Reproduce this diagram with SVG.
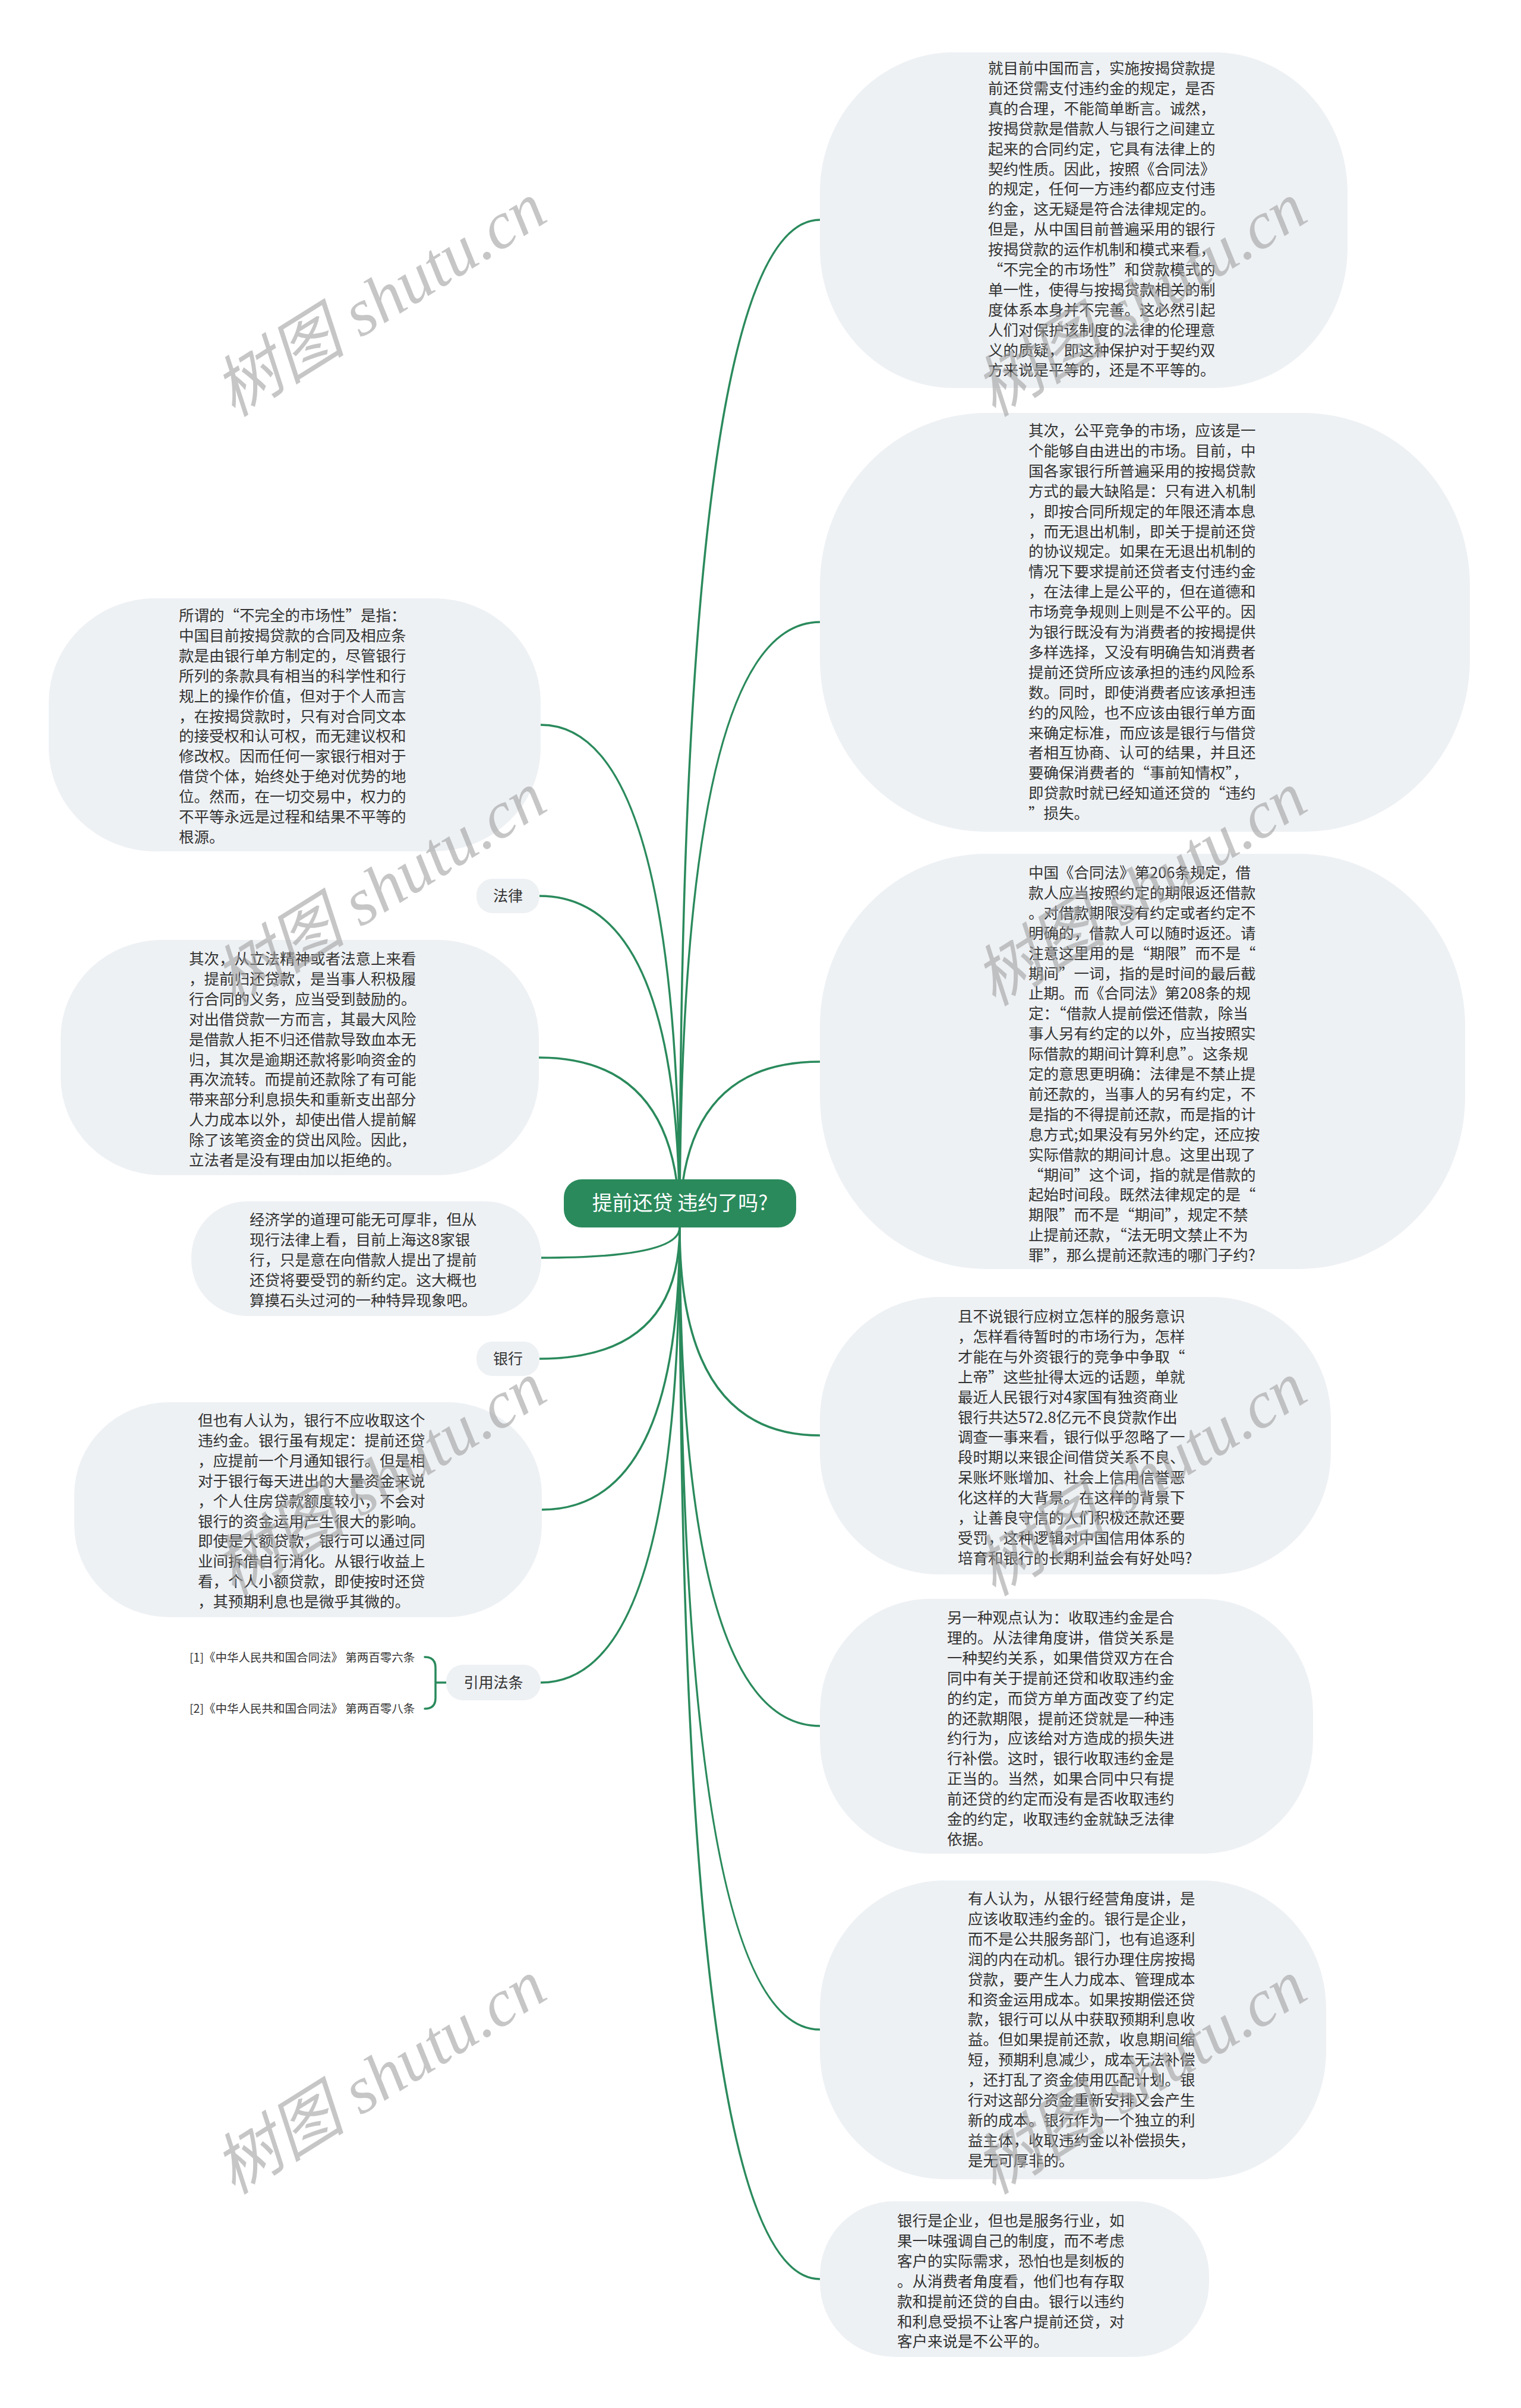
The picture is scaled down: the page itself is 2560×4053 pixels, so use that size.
<svg xmlns="http://www.w3.org/2000/svg" width="2560" height="4053" viewBox="0 0 2560 4053">
<style>
.bub{fill:#eef1f4;}
.t{font-family:"Noto Sans CJK SC","Noto Sans",sans-serif;font-size:25.5px;fill:#333333;}
.lbl{font-family:"Noto Sans CJK SC","Noto Sans",sans-serif;font-size:25px;fill:#333333;text-anchor:middle;}
.ref{font-family:"Noto Sans CJK SC","Noto Sans",sans-serif;font-size:19.5px;fill:#333333;}
.con path{fill:none;stroke:#2a8a5c;stroke-width:3.5;stroke-linecap:round;}
.wm{font-family:"Liberation Serif","Noto Sans CJK SC",serif;font-style:italic;font-size:112px;fill:#a0a0a0;fill-opacity:0.6;text-anchor:middle;}
</style>
<rect x="0" y="0" width="2560" height="4053" fill="#ffffff"/>
<g id="connectors" class="con">
<path d="M1144 2066 Q1144 370 1380 370"/>
<path d="M1144 2066 Q1144 1047 1380 1047"/>
<path d="M1144 2066 Q1144 1787 1380 1787"/>
<path d="M1144 2066 Q1144 2416 1380 2416"/>
<path d="M1144 2066 Q1144 2905 1380 2905"/>
<path d="M1144 2066 Q1144 3416 1380 3416"/>
<path d="M1144 2066 Q1144 3836 1380 3836"/>
<path d="M1144 2066 Q1144 1220 910 1220"/>
<path d="M1144 2066 Q1144 1508 908 1508"/>
<path d="M1144 2066 Q1144 1780 907 1780"/>
<path d="M1144 2066 Q1144 2117 911 2117"/>
<path d="M1144 2066 Q1144 2287 908 2287"/>
<path d="M1144 2066 Q1144 2541 912 2541"/>
<path d="M1144 2066 Q1144 2832 910 2832"/>
<path d="M751 2832 L734 2832"/>
<path d="M715 2789 Q733 2789 733 2807 L733 2858 Q733 2876 715 2876"/>
</g>
<g id="center">
<rect x="949" y="1985" width="391" height="81" rx="30" fill="#2a8a5c"/>
<text x="1144.5" y="2037" font-family="Noto Sans CJK SC, sans-serif" font-size="34" fill="#ffffff" text-anchor="middle">提前还贷 违约了吗?</text>
</g>
<g id="n1">
<rect class="bub" x="1380" y="88" width="888" height="565" rx="225" ry="235"/>
<text class="t" x="1663" y="124"><tspan x="1663">就目前中国而言，实施按揭贷款提</tspan><tspan x="1663" dy="33.9">前还贷需支付违约金的规定，是否</tspan><tspan x="1663" dy="33.9">真的合理，不能简单断言。诚然，</tspan><tspan x="1663" dy="33.9">按揭贷款是借款人与银行之间建立</tspan><tspan x="1663" dy="33.9">起来的合同约定，它具有法律上的</tspan><tspan x="1663" dy="33.9">契约性质。因此，按照《合同法》</tspan><tspan x="1663" dy="33.9">的规定，任何一方违约都应支付违</tspan><tspan x="1663" dy="33.9">约金，这无疑是符合法律规定的。</tspan><tspan x="1663" dy="33.9">但是，从中国目前普遍采用的银行</tspan><tspan x="1663" dy="33.9">按揭贷款的运作机制和模式来看，</tspan><tspan x="1663" dy="33.9">“不完全的市场性”和贷款模式的</tspan><tspan x="1663" dy="33.9">单一性，使得与按揭贷款相关的制</tspan><tspan x="1663" dy="33.9">度体系本身并不完善。这必然引起</tspan><tspan x="1663" dy="33.9">人们对保护该制度的法律的伦理意</tspan><tspan x="1663" dy="33.9">义的质疑，即这种保护对于契约双</tspan><tspan x="1663" dy="33.9">方来说是平等的，还是不平等的。</tspan></text>
</g>
<g id="n2">
<rect class="bub" x="1380" y="695" width="1094" height="705" rx="280" ry="290"/>
<text class="t" x="1731" y="734"><tspan x="1731">其次，公平竞争的市场，应该是一</tspan><tspan x="1731" dy="33.9">个能够自由进出的市场。目前，中</tspan><tspan x="1731" dy="33.9">国各家银行所普遍采用的按揭贷款</tspan><tspan x="1731" dy="33.9">方式的最大缺陷是：只有进入机制</tspan><tspan x="1731" dy="33.9">，即按合同所规定的年限还清本息</tspan><tspan x="1731" dy="33.9">，而无退出机制，即关于提前还贷</tspan><tspan x="1731" dy="33.9">的协议规定。如果在无退出机制的</tspan><tspan x="1731" dy="33.9">情况下要求提前还贷者支付违约金</tspan><tspan x="1731" dy="33.9">，在法律上是公平的，但在道德和</tspan><tspan x="1731" dy="33.9">市场竞争规则上则是不公平的。因</tspan><tspan x="1731" dy="33.9">为银行既没有为消费者的按揭提供</tspan><tspan x="1731" dy="33.9">多样选择，又没有明确告知消费者</tspan><tspan x="1731" dy="33.9">提前还贷所应该承担的违约风险系</tspan><tspan x="1731" dy="33.9">数。同时，即使消费者应该承担违</tspan><tspan x="1731" dy="33.9">约的风险，也不应该由银行单方面</tspan><tspan x="1731" dy="33.9">来确定标准，而应该是银行与借贷</tspan><tspan x="1731" dy="33.9">者相互协商、认可的结果，并且还</tspan><tspan x="1731" dy="33.9">要确保消费者的“事前知情权”，</tspan><tspan x="1731" dy="33.9">即贷款时就已经知道还贷的“违约</tspan><tspan x="1731" dy="33.9">”损失。</tspan></text>
</g>
<g id="n3">
<rect class="bub" x="1380" y="1437" width="1086" height="699" rx="280" ry="290"/>
<text class="t" x="1731" y="1478"><tspan x="1731">中国《合同法》第206条规定，借</tspan><tspan x="1731" dy="33.9">款人应当按照约定的期限返还借款</tspan><tspan x="1731" dy="33.9">。对借款期限没有约定或者约定不</tspan><tspan x="1731" dy="33.9">明确的，借款人可以随时返还。请</tspan><tspan x="1731" dy="33.9">注意这里用的是“期限”而不是“</tspan><tspan x="1731" dy="33.9">期间”一词，指的是时间的最后截</tspan><tspan x="1731" dy="33.9">止期。而《合同法》第208条的规</tspan><tspan x="1731" dy="33.9">定：“借款人提前偿还借款，除当</tspan><tspan x="1731" dy="33.9">事人另有约定的以外，应当按照实</tspan><tspan x="1731" dy="33.9">际借款的期间计算利息”。这条规</tspan><tspan x="1731" dy="33.9">定的意思更明确：法律是不禁止提</tspan><tspan x="1731" dy="33.9">前还款的，当事人的另有约定，不</tspan><tspan x="1731" dy="33.9">是指的不得提前还款，而是指的计</tspan><tspan x="1731" dy="33.9">息方式;如果没有另外约定，还应按</tspan><tspan x="1731" dy="33.9">实际借款的期间计息。这里出现了</tspan><tspan x="1731" dy="33.9">“期间”这个词，指的就是借款的</tspan><tspan x="1731" dy="33.9">起始时间段。既然法律规定的是“</tspan><tspan x="1731" dy="33.9">期限”而不是“期间”，规定不禁</tspan><tspan x="1731" dy="33.9">止提前还款，“法无明文禁止不为</tspan><tspan x="1731" dy="33.9">罪”，那么提前还款违的哪门子约?</tspan></text>
</g>
<g id="n4">
<rect class="bub" x="1380" y="2183" width="860" height="467" rx="200" ry="205"/>
<text class="t" x="1612" y="2225"><tspan x="1612">且不说银行应树立怎样的服务意识</tspan><tspan x="1612" dy="33.9">，怎样看待暂时的市场行为，怎样</tspan><tspan x="1612" dy="33.9">才能在与外资银行的竞争中争取“</tspan><tspan x="1612" dy="33.9">上帝”这些扯得太远的话题，单就</tspan><tspan x="1612" dy="33.9">最近人民银行对4家国有独资商业</tspan><tspan x="1612" dy="33.9">银行共达572.8亿元不良贷款作出</tspan><tspan x="1612" dy="33.9">调查一事来看，银行似乎忽略了一</tspan><tspan x="1612" dy="33.9">段时期以来银企间借贷关系不良、</tspan><tspan x="1612" dy="33.9">呆账坏账增加、社会上信用信誉恶</tspan><tspan x="1612" dy="33.9">化这样的大背景。在这样的背景下</tspan><tspan x="1612" dy="33.9">，让善良守信的人们积极还款还要</tspan><tspan x="1612" dy="33.9">受罚，这种逻辑对中国信用体系的</tspan><tspan x="1612" dy="33.9">培育和银行的长期利益会有好处吗?</tspan></text>
</g>
<g id="n5">
<rect class="bub" x="1380" y="2691" width="830" height="429" rx="185" ry="190"/>
<text class="t" x="1594" y="2732"><tspan x="1594">另一种观点认为：收取违约金是合</tspan><tspan x="1594" dy="33.9">理的。从法律角度讲，借贷关系是</tspan><tspan x="1594" dy="33.9">一种契约关系，如果借贷双方在合</tspan><tspan x="1594" dy="33.9">同中有关于提前还贷和收取违约金</tspan><tspan x="1594" dy="33.9">的约定，而贷方单方面改变了约定</tspan><tspan x="1594" dy="33.9">的还款期限，提前还贷就是一种违</tspan><tspan x="1594" dy="33.9">约行为，应该给对方造成的损失进</tspan><tspan x="1594" dy="33.9">行补偿。这时，银行收取违约金是</tspan><tspan x="1594" dy="33.9">正当的。当然，如果合同中只有提</tspan><tspan x="1594" dy="33.9">前还贷的约定而没有是否收取违约</tspan><tspan x="1594" dy="33.9">金的约定，收取违约金就缺乏法律</tspan><tspan x="1594" dy="33.9">依据。</tspan></text>
</g>
<g id="n6">
<rect class="bub" x="1380" y="3165" width="852" height="503" rx="210" ry="215"/>
<text class="t" x="1629" y="3205"><tspan x="1629">有人认为，从银行经营角度讲，是</tspan><tspan x="1629" dy="33.9">应该收取违约金的。银行是企业，</tspan><tspan x="1629" dy="33.9">而不是公共服务部门，也有追逐利</tspan><tspan x="1629" dy="33.9">润的内在动机。银行办理住房按揭</tspan><tspan x="1629" dy="33.9">贷款，要产生人力成本、管理成本</tspan><tspan x="1629" dy="33.9">和资金运用成本。如果按期偿还贷</tspan><tspan x="1629" dy="33.9">款，银行可以从中获取预期利息收</tspan><tspan x="1629" dy="33.9">益。但如果提前还款，收息期间缩</tspan><tspan x="1629" dy="33.9">短，预期利息减少，成本无法补偿</tspan><tspan x="1629" dy="33.9">，还打乱了资金使用匹配计划。银</tspan><tspan x="1629" dy="33.9">行对这部分资金重新安排又会产生</tspan><tspan x="1629" dy="33.9">新的成本。银行作为一个独立的利</tspan><tspan x="1629" dy="33.9">益主体，收取违约金以补偿损失，</tspan><tspan x="1629" dy="33.9">是无可厚非的。</tspan></text>
</g>
<g id="n7">
<rect class="bub" x="1380" y="3705" width="655" height="262" rx="125" ry="125"/>
<text class="t" x="1510" y="3747"><tspan x="1510">银行是企业，但也是服务行业，如</tspan><tspan x="1510" dy="33.9">果一味强调自己的制度，而不考虑</tspan><tspan x="1510" dy="33.9">客户的实际需求，恐怕也是刻板的</tspan><tspan x="1510" dy="33.9">。从消费者角度看，他们也有存取</tspan><tspan x="1510" dy="33.9">款和提前还贷的自由。银行以违约</tspan><tspan x="1510" dy="33.9">和利息受损不让客户提前还贷，对</tspan><tspan x="1510" dy="33.9">客户来说是不公平的。</tspan></text>
</g>
<g id="l1">
<rect class="bub" x="82" y="1007" width="828" height="426" rx="180" ry="175"/>
<text class="t" x="301" y="1045"><tspan x="301">所谓的“不完全的市场性”是指：</tspan><tspan x="301" dy="33.9">中国目前按揭贷款的合同及相应条</tspan><tspan x="301" dy="33.9">款是由银行单方制定的，尽管银行</tspan><tspan x="301" dy="33.9">所列的条款具有相当的科学性和行</tspan><tspan x="301" dy="33.9">规上的操作价值，但对于个人而言</tspan><tspan x="301" dy="33.9">，在按揭贷款时，只有对合同文本</tspan><tspan x="301" dy="33.9">的接受权和认可权，而无建议权和</tspan><tspan x="301" dy="33.9">修改权。因而任何一家银行相对于</tspan><tspan x="301" dy="33.9">借贷个体，始终处于绝对优势的地</tspan><tspan x="301" dy="33.9">位。然而，在一切交易中，权力的</tspan><tspan x="301" dy="33.9">不平等永远是过程和结果不平等的</tspan><tspan x="301" dy="33.9">根源。</tspan></text>
</g>
<g id="law">
<rect class="bub" x="802" y="1479" width="106" height="58" rx="27"/>
<text class="lbl" x="855" y="1517">法律</text>
</g>
<g id="l2">
<rect class="bub" x="102" y="1582" width="805" height="396" rx="170" ry="165"/>
<text class="t" x="318" y="1623"><tspan x="318">其次，从立法精神或者法意上来看</tspan><tspan x="318" dy="33.9">，提前归还贷款，是当事人积极履</tspan><tspan x="318" dy="33.9">行合同的义务，应当受到鼓励的。</tspan><tspan x="318" dy="33.9">对出借贷款一方而言，其最大风险</tspan><tspan x="318" dy="33.9">是借款人拒不归还借款导致血本无</tspan><tspan x="318" dy="33.9">归，其次是逾期还款将影响资金的</tspan><tspan x="318" dy="33.9">再次流转。而提前还款除了有可能</tspan><tspan x="318" dy="33.9">带来部分利息损失和重新支出部分</tspan><tspan x="318" dy="33.9">人力成本以外，却使出借人提前解</tspan><tspan x="318" dy="33.9">除了该笔资金的贷出风险。因此，</tspan><tspan x="318" dy="33.9">立法者是没有理由加以拒绝的。</tspan></text>
</g>
<g id="l3">
<rect class="bub" x="322" y="2022" width="589" height="193" rx="94"/>
<text class="t" x="420" y="2062"><tspan x="420">经济学的道理可能无可厚非，但从</tspan><tspan x="420" dy="33.9">现行法律上看，目前上海这8家银</tspan><tspan x="420" dy="33.9">行，只是意在向借款人提出了提前</tspan><tspan x="420" dy="33.9">还贷将要受罚的新约定。这大概也</tspan><tspan x="420" dy="33.9">算摸石头过河的一种特异现象吧。</tspan></text>
</g>
<g id="bank">
<rect class="bub" x="802" y="2258" width="106" height="58" rx="27"/>
<text class="lbl" x="855" y="2296">银行</text>
</g>
<g id="l4">
<rect class="bub" x="125" y="2360" width="787" height="362" rx="160" ry="155"/>
<text class="t" x="333" y="2400"><tspan x="333">但也有人认为，银行不应收取这个</tspan><tspan x="333" dy="33.9">违约金。银行虽有规定：提前还贷</tspan><tspan x="333" dy="33.9">，应提前一个月通知银行。但是相</tspan><tspan x="333" dy="33.9">对于银行每天进出的大量资金来说</tspan><tspan x="333" dy="33.9">，个人住房贷款额度较小，不会对</tspan><tspan x="333" dy="33.9">银行的资金运用产生很大的影响。</tspan><tspan x="333" dy="33.9">即使是大额贷款，银行可以通过同</tspan><tspan x="333" dy="33.9">业间拆借自行消化。从银行收益上</tspan><tspan x="333" dy="33.9">看，个人小额贷款，即使按时还贷</tspan><tspan x="333" dy="33.9">，其预期利息也是微乎其微的。</tspan></text>
</g>
<g id="cite">
<rect class="bub" x="751" y="2802" width="159" height="60" rx="28"/>
<text class="lbl" x="830.5" y="2841">引用法条</text>
</g>
<g id="ref1"><text class="ref" x="319" y="2797">[1]《中华人民共和国合同法》 第两百零六条</text></g>
<g id="ref2"><text class="ref" x="319" y="2883">[2]《中华人民共和国合同法》 第两百零八条</text></g>
<g id="watermark">
<text class="wm" x="640" y="542" transform="rotate(-32 640 505)">树图 shutu.cn</text>
<text class="wm" x="1920" y="542" transform="rotate(-32 1920 505)">树图 shutu.cn</text>
<text class="wm" x="640" y="1534" transform="rotate(-32 640 1497)">树图 shutu.cn</text>
<text class="wm" x="1920" y="1534" transform="rotate(-32 1920 1497)">树图 shutu.cn</text>
<text class="wm" x="640" y="2527" transform="rotate(-32 640 2490)">树图 shutu.cn</text>
<text class="wm" x="1920" y="2527" transform="rotate(-32 1920 2490)">树图 shutu.cn</text>
<text class="wm" x="640" y="3534" transform="rotate(-32 640 3497)">树图 shutu.cn</text>
<text class="wm" x="1920" y="3534" transform="rotate(-32 1920 3497)">树图 shutu.cn</text>
</g>
</svg>
